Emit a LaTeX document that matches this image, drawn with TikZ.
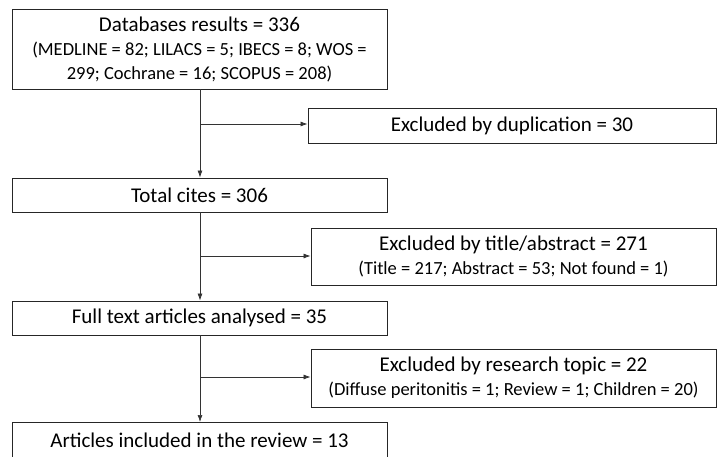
\documentclass[tikz,border=0pt]{standalone}
\usepackage{fontspec}
\setmainfont{Carlito}
\usetikzlibrary{arrows.meta}
\tikzset{
  box/.style={draw=black!85, line width=0.9pt, rectangle, inner sep=0pt, align=center, anchor=center,
    font=\fontsize{21}{24}\selectfont},
  link/.style={draw=black!80, line width=0.7pt},
  flow/.style={link, -{Latex[length=7pt,width=5pt]}},
}
\newcommand{\smalltxt}{\fontsize{18.5}{24}\selectfont}
\begin{document}
\begin{tikzpicture}[x=1pt,y=-1pt]
  \useasboundingbox (0,0) rectangle (723,456);
  % main column
  \node[box, minimum width=375pt, minimum height=80pt] (db) at (199.5,49)
    {Databases results = 336\\
     \smalltxt (MEDLINE = 82; LILACS = 5; IBECS = 8; WOS =\\
     \smalltxt 299; Cochrane = 16; SCOPUS = 208)};
  \node[box, minimum width=375pt, minimum height=34pt] (total) at (199.5,195)
    {Total cites = 306};
  \node[box, minimum width=375pt, minimum height=34pt] (full) at (199.5,318)
    {Full text articles analysed = 35};
  \node[box, minimum width=375pt, minimum height=36pt, anchor=north] (incl) at (199.5,422)
    {Articles included in the review = 13};
  % exclusion boxes
  \node[box, minimum width=408pt, minimum height=35pt] (dup) at (512,125.5)
    {Excluded by duplication = 30};
  \node[box, minimum width=405pt, minimum height=57pt] (title) at (513.5,256.5)
    {Excluded by title/abstract = 271\\
     \smalltxt (Title = 217; Abstract = 53; Not found = 1)};
  \node[box, minimum width=405pt, minimum height=58pt] (topic) at (513.5,378)
    {Excluded by research topic = 22\\
     \smalltxt (Diffuse peritonitis = 1; Review = 1; Children = 20)};
  % branch points on the main flow line
  \coordinate (b1) at (200,124);
  \coordinate (b2) at (200,256);
  \coordinate (b3) at (200,377);
  % connectors
  \draw[flow] (db.south -| b1) -- (total.north -| b1);
  \draw[flow] (total.south -| b2) -- (full.north -| b2);
  \draw[flow] (full.south -| b3) -- (incl.north -| b3);
  \draw[flow] (b1) -- (dup.west |- b1);
  \draw[flow] (b2) -- (title.west |- b2);
  \draw[flow] (b3) -- (topic.west |- b3);
\end{tikzpicture}
\end{document}
